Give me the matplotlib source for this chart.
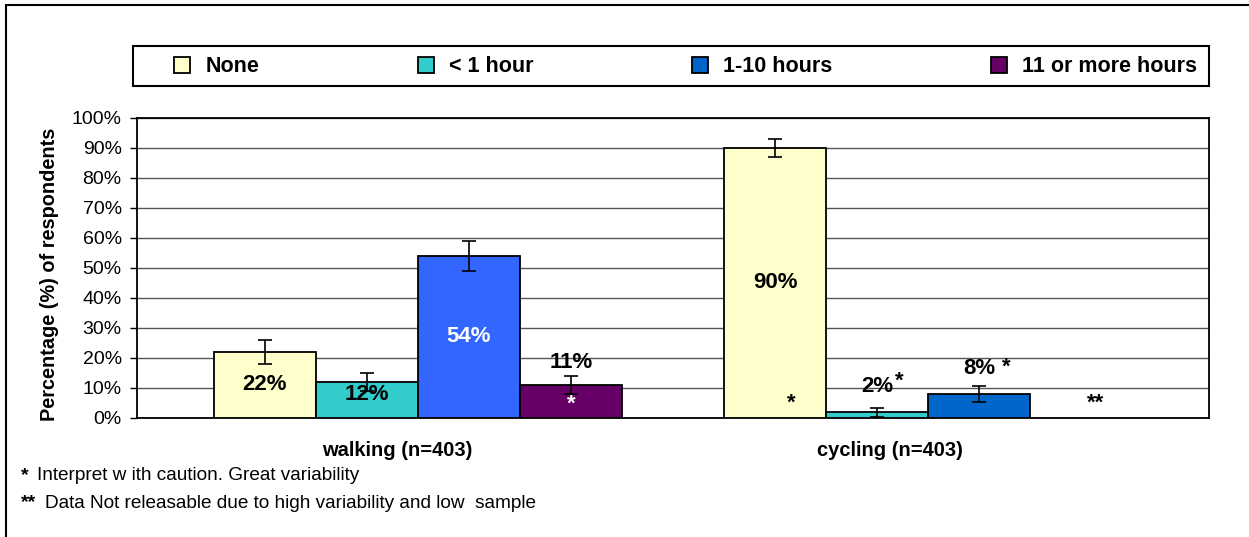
import numpy as np
import matplotlib.pyplot as plt
from matplotlib.patches import Rectangle, Patch

plt.rcParams['font.family'] = ['Liberation Sans', 'DejaVu Sans']

# data
categories = ['walking (n=403)', 'cycling (n=403)']
series = ['None', '< 1 hour', '1-10 hours', '11 or more hours']
val_none = [22, 90]
val_lt1 = [12, 2]
val_1_10 = [54, 8]
val_11plus = [11, np.nan]   # cycling: not releasable
err_none = [4, 3]
err_lt1 = [3, 1.5]
err_1_10 = [5, 2.7]
err_11plus = [3, np.nan]

values = [val_none, val_lt1, val_1_10, val_11plus]
errors = [err_none, err_lt1, err_1_10, err_11plus]
legend_colors = ['#FFFFCC', '#33CCCC', '#0066CC', '#660066']
bar_colors = [['#FFFFCC', '#FFFFCC'], ['#33CCCC', '#33CCCC'],
              ['#3366FF', '#0066CC'], ['#660066', '#660066']]

W, H = 1249, 537
fig = plt.figure(figsize=(W / 100, H / 100), dpi=100)
ax = fig.add_axes([137 / W, 1 - 418 / H, (1209 - 137) / W, 300 / H])

# outer frame (cut off at the right and bottom)
fig.patches.append(Rectangle((6 / W, -0.1), 1.2, 1 - 5 / H + 0.1,
                             transform=fig.transFigure, fill=False,
                             edgecolor='black', linewidth=1.5, zorder=0))
# legend box
fig.patches.append(Rectangle((133 / W, 1 - 86 / H), 1076 / W, 40 / H,
                             transform=fig.transFigure, fill=False,
                             edgecolor='black', linewidth=1.5, zorder=0))

x = np.arange(len(categories))
w = 0.2
for i, s in enumerate(series):
    pos = x + (i - 1.5) * w
    ax.bar(pos, values[i], width=w, color=bar_colors[i], edgecolor='black',
           linewidth=1.3, zorder=3)
    ax.errorbar(pos, values[i], yerr=errors[i], fmt='none', ecolor='black',
                elinewidth=1.2, capsize=4.7, capthick=1.2, zorder=4)

lab = dict(fontsize=16, fontweight='bold', ha='center', va='center', zorder=5)
off = dict(textcoords='offset points')

# labels inside bars
ax.text(x[0] - 1.5 * w, val_none[0] / 2, '22%', **lab)
ax.text(x[0] - 0.5 * w, val_lt1[0] / 2 + 2, '12%', **lab)
ax.text(x[0] + 0.5 * w, val_1_10[0] / 2, '54%', color='white', **lab)
ax.text(x[1] - 1.5 * w, val_none[1] / 2, '90%', **lab)

# labels above bars
ax.annotate('11%', (x[0] + 1.5 * w, val_11plus[0]), xytext=(0, 16.5), **off, **lab)
ax.annotate('2%', (x[1] - 0.5 * w, val_lt1[1]), xytext=(0, 18), **off, **lab)
ax.annotate('8%', (x[1] + 0.5 * w, val_1_10[1]), xytext=(0, 18), **off, **lab)

# caution stars
ax.annotate('*', (x[0] + 1.5 * w, 0), xytext=(0, 10), color='white', **off, **lab)
ax.annotate('*', (x[1] - 1.5 * w, 0), xytext=(12, 11), **off, **lab)
ax.annotate('*', (x[1] - 0.5 * w, val_lt1[1]), xytext=(16, 22), **off, **lab)
ax.annotate('*', (x[1] + 0.5 * w, val_1_10[1]), xytext=(19.5, 19.5), **off, **lab)
ax.annotate('**', (x[1] + 1.5 * w, 0), xytext=(10, 11), **off, **lab)

ax.set_xlim(-0.55, 1.55)
ax.set_ylim(0, 100)
ax.set_yticks(np.arange(0, 101, 10))
ax.set_yticklabels([f'{t}%' for t in range(0, 101, 10)], fontsize=14)
ax.yaxis.grid(True, color='#555555', linewidth=1, zorder=0)
ax.set_axisbelow(True)
ax.tick_params(axis='y', length=5, width=1, pad=6)
ax.set_xticks([])
for sp in ax.spines.values():
    sp.set_linewidth(1.3)
ax.set_ylabel('Percentage (%) of respondents', fontsize=14.3, fontweight='bold')
ax.yaxis.set_label_coords(-0.073, 0.48)

# category labels (sit a little left of the groups, as in the original)
for xc, c in zip([-0.04, 0.925], categories):
    ax.text(xc, -0.107, c, transform=ax.get_xaxis_transform(), ha='center',
            va='center', fontsize=14.5, fontweight='bold')

handles = [Patch(facecolor=c, edgecolor='black', linewidth=1.3) for c in legend_colors]
leg = fig.legend(handles, series, loc='center left', ncol=4, mode='expand',
                 bbox_to_anchor=(174 / W, 1 - 67 / H, (1197 - 174) / W, 0),
                 prop={'weight': 'bold', 'size': 15.5}, frameon=False,
                 handlelength=0.75, handleheight=0.75, handletextpad=0.7,
                 borderaxespad=0, borderpad=0)

# footnotes
fig.text(21 / W, 1 - 476 / H, '*', fontsize=14, fontweight='bold', va='center')
fig.text(37 / W, 1 - 476 / H, 'Interpret w ith caution. Great variability',
         fontsize=13.7, va='center')
fig.text(21 / W, 1 - 503 / H, '**', fontsize=14, fontweight='bold', va='center')
fig.text(45 / W, 1 - 503 / H,
         'Data Not releasable due to high variability and low  sample',
         fontsize=13.7, va='center')

fig.savefig('out.png', dpi=100)
